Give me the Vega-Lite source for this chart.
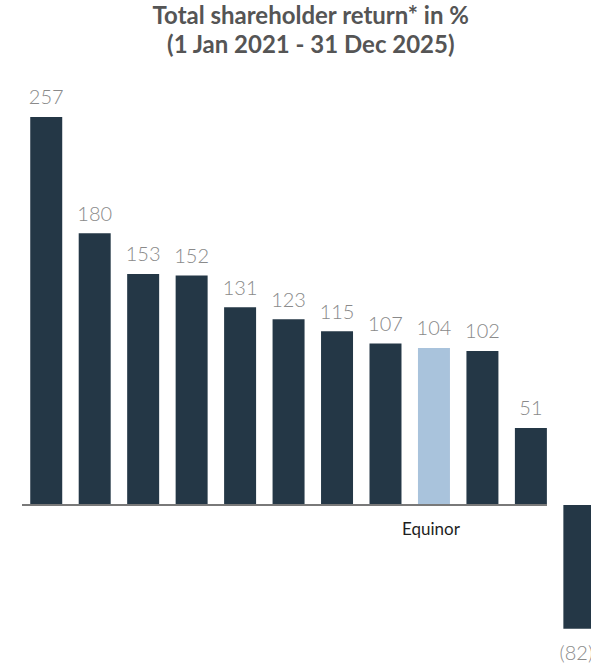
{
  "$schema": "https://vega.github.io/schema/vega-lite/v6.json",
  "autosize": {"type": "none"},
  "padding": {"left": 22, "top": 70, "right": 0, "bottom": 0},
  "width": 581.6,
  "height": 595,
  "background": "white",
  "config": {"view": {"stroke": null}},
  "title": {
    "text": ["Total shareholder return* in %", "(1 Jan 2021 - 31 Dec 2025)"],
    "font": "Lato",
    "fontSize": 24,
    "fontWeight": "bold",
    "color": "#555555",
    "anchor": "middle",
    "dx": -2,
    "offset": 12,
    "lineHeight": 29
  },
  "data": {
    "values": [
      {"company": "Peer 1", "value": 257, "label": "257", "highlight": false, "name": ""},
      {"company": "Peer 2", "value": 180, "label": "180", "highlight": false, "name": ""},
      {"company": "Peer 3", "value": 153, "label": "153", "highlight": false, "name": ""},
      {"company": "Peer 4", "value": 152, "label": "152", "highlight": false, "name": ""},
      {"company": "Peer 5", "value": 131, "label": "131", "highlight": false, "name": ""},
      {"company": "Peer 6", "value": 123, "label": "123", "highlight": false, "name": ""},
      {"company": "Peer 7", "value": 115, "label": "115", "highlight": false, "name": ""},
      {"company": "Peer 8", "value": 107, "label": "107", "highlight": false, "name": ""},
      {"company": "Equinor", "value": 104, "label": "104", "highlight": true, "name": "Equinor"},
      {"company": "Peer 10", "value": 102, "label": "102", "highlight": false, "name": ""},
      {"company": "Peer 11", "value": 51, "label": "51", "highlight": false, "name": ""},
      {"company": "Peer 12", "value": -82, "label": "(82)", "highlight": false, "name": ""}
    ]
  },
  "encoding": {
    "x": {
      "field": "company",
      "type": "nominal",
      "sort": null,
      "axis": null,
      "scale": {"paddingInner": 0.34, "paddingOuter": 0.17}
    }
  },
  "layer": [
    {
      "mark": {"type": "bar"},
      "encoding": {
        "y": {"field": "value", "type": "quantitative", "axis": null, "scale": {"domain": [-106, 288.1], "nice": false, "zero": false}},
        "color": {
          "field": "highlight",
          "type": "nominal",
          "legend": null,
          "scale": {"domain": [false, true], "range": ["#243746", "#a9c3dc"]}
        }
      }
    },
    {
      "mark": {"type": "rule", "color": "#7a7a7a", "strokeWidth": 1.5},
      "encoding": {
        "x": {"datum": "Peer 1", "bandPosition": -0.25},
        "x2": {"datum": "Peer 11", "bandPosition": 1},
        "y": {"datum": 0, "type": "quantitative"}
      }
    },
    {
      "transform": [{"filter": "datum.value >= 0"}],
      "mark": {"type": "text", "font": "Lato", "fontWeight": 300, "fontSize": 20, "color": "#8a8a8a", "baseline": "alphabetic", "dy": -12.5},
      "encoding": {
        "y": {"field": "value", "type": "quantitative"},
        "text": {"field": "label"}
      }
    },
    {
      "transform": [{"filter": "datum.value < 0"}],
      "mark": {"type": "text", "font": "Lato", "fontWeight": 300, "fontSize": 20, "color": "#8a8a8a", "baseline": "alphabetic", "dx": -3, "dy": 31},
      "encoding": {
        "y": {"field": "value", "type": "quantitative"},
        "text": {"field": "label"}
      }
    },
    {
      "transform": [{"filter": "datum.highlight"}],
      "mark": {"type": "text", "font": "Lato", "fontWeight": 400, "fontSize": 17, "color": "#1e1e1e", "baseline": "alphabetic", "dx": -3, "dy": 30},
      "encoding": {
        "y": {"datum": 0, "type": "quantitative"},
        "text": {"field": "name"}
      }
    }
  ]
}
